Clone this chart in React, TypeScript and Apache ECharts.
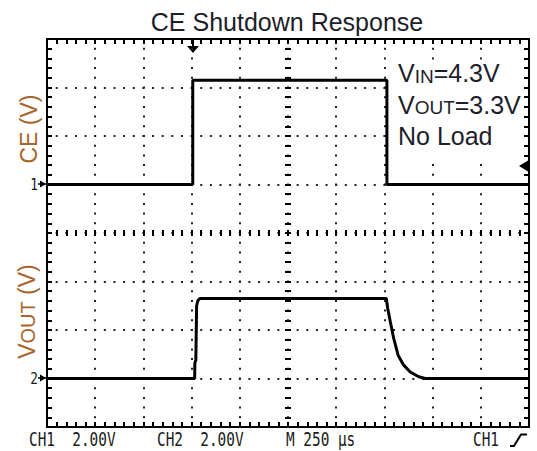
import React, { useEffect, useRef } from "react";
import * as echarts from "echarts";

// ---- data (time in µs, 250 µs/div; voltages in V, 2 V/div) ----
const ceTimeUs = [0, 756, 756, 1763, 1763, 2500];
const ceVolts = [0, 0, 4.3, 4.3, 0, 0];
const voutTimeUs = [0, 766, 767, 772, 776, 783, 794, 1760, 1767, 1781, 1798, 1821, 1850, 1884, 1928, 1962, 2500];
const voutVolts = [0, 0, 0.65, 0.75, 3.0, 3.22, 3.3, 3.3, 2.9, 2.33, 1.66, 0.96, 0.55, 0.27, 0.07, 0, 0];

const titleText = "CE Shutdown Response";
const noteLines = ["{b|V}{s|IN}{b|=4.3V}", "{b|V}{s|OUT}{b|=3.3V}", "{b|No Load}"];
const ceAxisName = "{b|CE (V)}";
const voutAxisName = "{b|V}{s|OUT}{b| (V)}";
const scopeLabels = ["CH1  2.00V", "CH2  2.00V", "M 250 µs", "CH1"];
const channelMarks = ["1", "2"];

const FONT = '"Liberation Sans", Arial, Helvetica, sans-serif';
const MONO = '"DejaVu Sans Mono", "Liberation Mono", monospace';

const L = 47, T = 39, W = 482, H = 388;

export default function App() {
  const ref = useRef<HTMLDivElement>(null);

  useEffect(() => {
    if (!ref.current) return;
    const chart = echarts.init(ref.current, undefined, { renderer: "svg" });

    const black = "#000";

    // thin grids that only carry graticule tick marks
    const tickGrids = [
      { kind: "x", rect: { left: L, top: T, width: W, height: 6 }, len: 5, pos: "top" },
      { kind: "x", rect: { left: L, top: T + H - 6, width: W, height: 6 }, len: 5, pos: "bottom" },
      { kind: "x", rect: { left: L, top: T + H / 2 - 3, width: W, height: 6 }, len: 6, pos: "bottom" },
      { kind: "y", rect: { left: L + W / 2 - 3, top: T, width: 100, height: H }, len: 6, pos: "left" },
    ];

    const grids: any[] = [{ left: L, top: T, width: W, height: H }];
    const xAxes: any[] = [
      {
        gridIndex: 0, type: "value", position: "bottom", min: 0, max: 2500, interval: 250,
        axisLine: { show: true, onZero: false, lineStyle: { color: black, width: 2 } },
        axisTick: { show: false }, axisLabel: { show: false },
        splitLine: { show: true, lineStyle: { color: "#222", width: 2, type: [2, 7.7], dashOffset: 1 } },
      },
      {
        gridIndex: 0, type: "value", position: "top", min: 0, max: 2500, interval: 250,
        axisLine: { show: true, onZero: false, lineStyle: { color: black, width: 2 } },
        axisTick: { show: false }, axisLabel: { show: false }, splitLine: { show: false },
      },
    ];
    const yAxes: any[] = [
      {
        gridIndex: 0, type: "value", position: "left", min: -10, max: 6, interval: 2,
        axisLine: { show: true, onZero: false, lineStyle: { color: black, width: 2 } },
        axisTick: { show: true, inside: true, length: 5, lineStyle: { color: black, width: 2 } },
        minorTick: { show: true, splitNumber: 5, length: 5, lineStyle: { color: black, width: 2 } },
        axisLabel: { show: false },
        splitLine: { show: true, lineStyle: { color: "#222", width: 2, type: [2, 7.64], dashOffset: 1 } },
      },
      {
        gridIndex: 0, type: "value", position: "right", min: -2, max: 14, interval: 0.4,
        axisLine: { show: true, onZero: false, lineStyle: { color: black, width: 2 } },
        axisTick: { show: true, inside: true, length: 5, lineStyle: { color: black, width: 2 } },
        axisLabel: { show: false }, splitLine: { show: false },
      },
    ];

    tickGrids.forEach((g: any) => {
      const gi = grids.length;
      grids.push({ ...g.rect });
      const tickAxis = {
        gridIndex: gi, type: "value", position: g.pos,
        axisLine: { show: false, onZero: false },
        axisTick: { show: true, inside: true, length: g.len, lineStyle: { color: black, width: 2 } },
        axisLabel: { show: false }, splitLine: { show: false },
      };
      const hidden = { gridIndex: gi, type: "value", show: false, min: 0, max: 1 };
      if (g.kind === "x") {
        xAxes.push({ ...tickAxis, min: 0, max: 2500, interval: 50 });
        yAxes.push(hidden);
      } else {
        yAxes.push({ ...tickAxis, min: 0, max: 40, interval: 1 });
        xAxes.push(hidden);
      }
    });

    const rich = (big: number, small: number, fill: string) => ({
      b: { fontSize: big, fontFamily: FONT, fill, verticalAlign: "bottom" },
      s: { fontSize: small, fontFamily: FONT, fill, verticalAlign: "bottom" },
    });

    const noteY = [73, 104.5, 136];
    const labelX = [29, 157, 286, 473];
    const nameColor = "#a8642a";

    chart.setOption({
      animation: false,
      backgroundColor: "#fff",
      grid: grids,
      xAxis: xAxes,
      yAxis: yAxes,
      series: [
        {
          name: "CE", type: "line", xAxisIndex: 0, yAxisIndex: 0, symbol: "none", z: 5,
          lineStyle: { color: black, width: 3 },
          data: ceTimeUs.map((t, i) => [t, ceVolts[i]]),
        },
        {
          name: "VOUT", type: "line", xAxisIndex: 0, yAxisIndex: 1, symbol: "none", z: 5,
          lineStyle: { color: black, width: 3 },
          data: voutTimeUs.map((t, i) => [t, voutVolts[i]]),
        },
      ],
      graphic: [
        {
          type: "text", x: 287, y: 22, z: 10,
          style: { text: titleText, font: `25px ${FONT}`, fill: "#1e1e2a", textAlign: "center", textVerticalAlign: "middle" },
        },
        {
          type: "rect", z: 8,
          shape: { x: 392, y: 63, width: 130, height: 95 },
          style: { fill: "#fff" },
        },
        ...noteLines.map((t, i) => ({
          type: "text", x: 398, y: noteY[i], z: 10,
          style: { text: t, rich: rich(25, 19, "#1e1e2a"), textAlign: "left", textVerticalAlign: "middle" },
        })),
        {
          type: "text", x: 28.5, y: 129, rotation: Math.PI / 2, z: 10,
          style: { text: ceAxisName, rich: rich(23, 20, nameColor), textAlign: "center", textVerticalAlign: "middle" },
        },
        {
          type: "text", x: 26.5, y: 311.5, rotation: Math.PI / 2, z: 10,
          style: { text: voutAxisName, rich: rich(23, 20, nameColor), textAlign: "center", textVerticalAlign: "middle" },
        },
        ...scopeLabels.map((t, i) => ({
          type: "text", x: labelX[i], y: 439.5, scaleX: 0.72, z: 10,
          style: { text: t, font: `20px ${MONO}`, fill: "#1a1a1a", textAlign: "left", textVerticalAlign: "middle" },
        })),
        {
          type: "polyline", z: 10,
          shape: { points: [[510, 446], [514, 446], [521, 434.5], [527, 434.5]] },
          style: { stroke: black, lineWidth: 2, fill: null },
        },
        ...channelMarks.map((t, i) => ({
          type: "text", x: 38, y: i === 0 ? 184 : 378, scaleX: 0.8, z: 10,
          style: { text: t, font: `16px ${MONO}`, fill: "#1a1a1a", textAlign: "right", textVerticalAlign: "middle" },
        })),
        ...[184, 378].map((yy) => ({
          type: "group", z: 10,
          children: [
            { type: "line", shape: { x1: 38, y1: yy, x2: 47, y2: yy }, style: { stroke: black, lineWidth: 1.5 } },
            { type: "polygon", shape: { points: [[40, yy - 3.5], [46, yy], [40, yy + 3.5]] }, style: { fill: black } },
          ],
        })),
        {
          type: "group", z: 10,
          children: [
            { type: "line", shape: { x1: 193, y1: 40, x2: 193, y2: 47 }, style: { stroke: black, lineWidth: 2 } },
            { type: "polygon", shape: { points: [[187, 46], [199, 46], [193, 53]] }, style: { fill: black } },
          ],
        },
        {
          type: "group", z: 10,
          children: [
            { type: "line", shape: { x1: 523, y1: 166, x2: 529, y2: 166 }, style: { stroke: black, lineWidth: 2 } },
            { type: "polygon", shape: { points: [[519, 166], [528, 160.5], [528, 171.5]] }, style: { fill: black } },
          ],
        },
      ],
    });

    return () => chart.dispose();
  }, []);

  return (
    <div
      ref={ref}
      style={{ position: "fixed", left: 0, top: 0, width: 537, height: 451, background: "#fff" }}
    />
  );
}
